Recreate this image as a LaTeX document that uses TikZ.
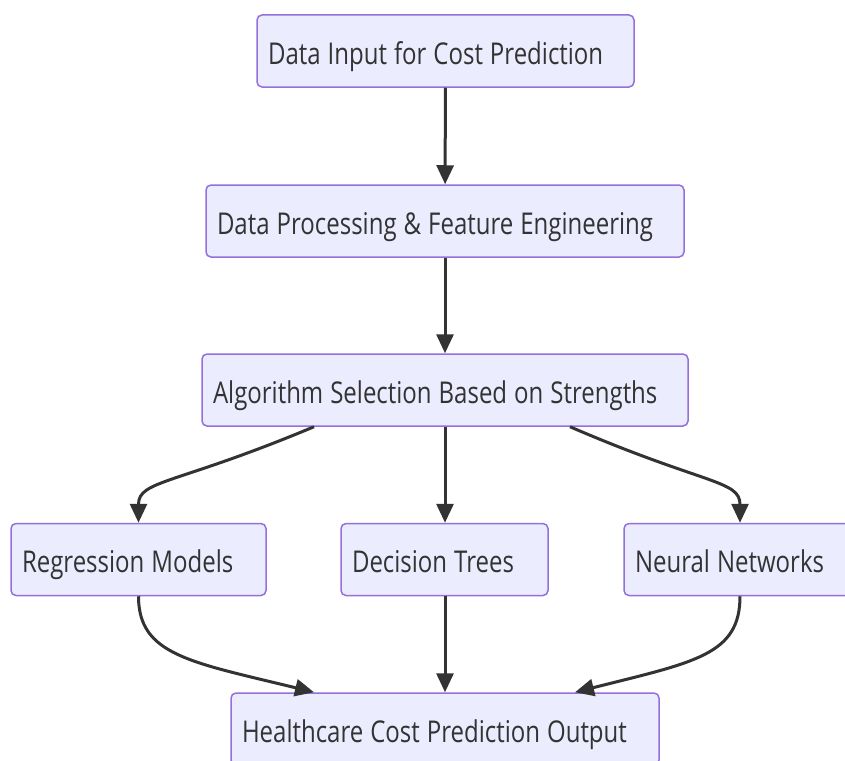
\documentclass[tikz,border=0pt]{standalone}
\usepackage{fontspec}
\newfontfamily\nodefont[FakeStretch=0.8]{Open Sans}
\newcommand\boxfont{\nodefont\fontsize{30}{34}\selectfont\spaceskip=7pt plus 1pt\relax}
\usetikzlibrary{arrows.meta}
\definecolor{boxfill}{HTML}{ECECFF}
\definecolor{boxline}{HTML}{9370DB}
\definecolor{ink}{HTML}{333333}
\begin{document}
\begin{tikzpicture}[x=1pt,y=-1pt,
  box/.style={draw=boxline, fill=boxfill, line width=1.5pt, rounded corners=5pt,
    minimum height=72pt, inner xsep=11pt, inner ysep=0pt, align=left,
    text height=27pt, text depth=1pt, text=ink},
  conn/.style={draw=ink, line width=3pt, -{Triangle[length=19pt,width=17pt]}}]
\useasboundingbox (0,0) rectangle (845,760);
\node[box, minimum width=377pt, text width=355pt] (n1) at (445.5,51) {\boxfont Data Input for Cost Prediction};
\node[box, minimum width=478pt, text width=456pt] (n2) at (445,221) {\boxfont Data Processing \& Feature Engineering};
\node[box, minimum width=486pt, text width=464pt] (n3) at (445,390) {\boxfont Algorithm Selection Based on Strengths};
\node[box, minimum width=255pt, text width=233pt] (n4) at (138.5,559.5) {\boxfont Regression Models};
\node[box, minimum width=207pt, text width=185pt] (n5) at (444.5,559.5) {\boxfont Decision Trees};
\node[box, minimum width=232pt, text width=210pt] (n6) at (740,559.5) {\boxfont Neural Networks};
\node[box, minimum width=428pt, text width=406pt] (n7) at (445,729) {\boxfont Healthcare Cost Prediction Output};
\draw[conn] (n1) -- (n2);
\draw[conn] (n2) -- (n3);
\draw[conn] ([xshift=-131pt]n3.south) .. controls (175,485) and (138.5,480) .. (n4.north);
\draw[conn] (n3.south) -- (n5.north -| n3.south);
\draw[conn] ([xshift=125pt]n3.south) .. controls (705,485) and (740,480) .. (n6.north);
\draw[conn] (n4.south) .. controls (138.5,655) and (190,662) .. ([xshift=-131pt]n7.north);
\draw[conn] (n5.south -| n7.north) -- (n7.north);
\draw[conn] (n6.south) .. controls (740,655) and (695,662) .. ([xshift=130pt]n7.north);
\end{tikzpicture}
\end{document}
